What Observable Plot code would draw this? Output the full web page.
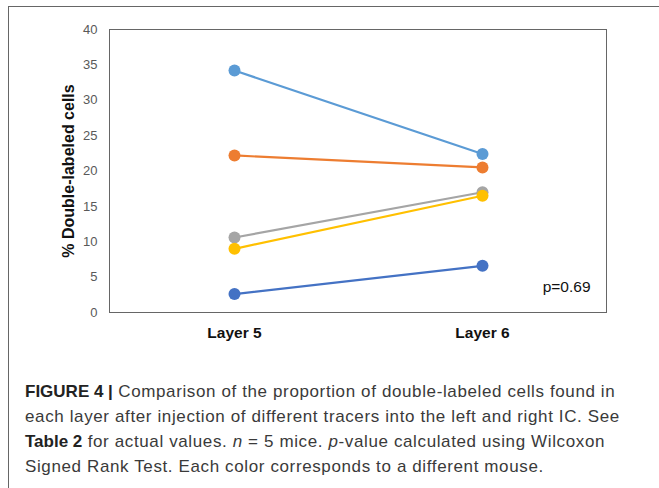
<!DOCTYPE html>
<html>
<head>
<meta charset="utf-8">
<script src="https://cdn.jsdelivr.net/npm/d3@7"></script>
<script src="https://cdn.jsdelivr.net/npm/@observablehq/plot@0.6"></script>
<style>
  html, body { margin: 0; padding: 0; background: #fff; }
  #wrap { position: relative; width: 659px; height: 488px; overflow: hidden; }
  #border { position: absolute; left: 8px; top: 6px; width: 660px; height: 490px;
            border-top: 1.5px solid #666; border-left: 1.5px solid #666; }
  #chart { position: absolute; left: 0; top: 0; }
  #caption { position: absolute; left: 25px; top: 379px; white-space: nowrap;
             font-family: "Liberation Sans", Arial, sans-serif; letter-spacing: 0.62px;
             font-size: 17px; line-height: 25px; color: #3a3a3a; }
  #caption b { font-weight: 700; color: #222; letter-spacing: 0; }
</style>
</head>
<body>
<div id="wrap">
  <div id="border"></div>
  <div id="chart"></div>
  <div id="caption"><b>FIGURE 4 |</b> Comparison of the proportion of double-labeled cells found in<br>each layer after injection of different tracers into the left and right IC. See<br><b>Table 2</b> for actual values. <i>n</i> = 5 mice. <i>p</i>-value calculated using Wilcoxon<br>Signed Rank Test. Each color corresponds to a different mouse.</div>
</div>
<script>
const layers = ["Layer 5", "Layer 6"];
const mice = ["Mouse 1", "Mouse 2", "Mouse 3", "Mouse 4", "Mouse 5"];
const layer5 = [34.2, 22.2, 10.6, 9.0, 2.6];
const layer6 = [22.4, 20.5, 17.0, 16.5, 6.6];
const colors = ["#5B9BD5", "#ED7D31", "#A5A5A5", "#FFC000", "#4472C4"];
const yTicks = [0, 5, 10, 15, 20, 25, 30, 35, 40];
const pLabel = "p=0.69";
const yLabel = "% Double-labeled cells";

const data = [];
mice.forEach((m, i) => {
  data.push({mouse: m, layer: layers[0], value: layer5[i]});
  data.push({mouse: m, layer: layers[1], value: layer6[i]});
});

const chart = Plot.plot({
  width: 659,
  height: 352,
  marginLeft: 109,
  marginRight: 53,
  marginTop: 29,
  marginBottom: 40,
  style: {background: "transparent"},
  x: {type: "point", domain: layers, padding: 0.5, label: null},
  y: {domain: [0, 40], label: null},
  color: {domain: mice, range: colors},
  marks: [
    Plot.frame({stroke: "#666", strokeWidth: 1}),
    Plot.axisY({ticks: yTicks, tickSize: 0, tickPadding: 12, fontSize: 13,
                fill: "#595959", label: null, fontFamily: "Liberation Sans, Arial, sans-serif"}),
    Plot.axisX({tickSize: 0, tickPadding: 14, fontSize: 15.5, fontWeight: "bold",
                fill: "#111", label: null, fontFamily: "Liberation Sans, Arial, sans-serif"}),
    Plot.line(data, {x: "layer", y: "value", z: "mouse", stroke: "mouse", strokeWidth: 2.2}),
    Plot.dot(data, {x: "layer", y: "value", fill: "mouse", r: 6}),
    Plot.text([pLabel], {frameAnchor: "bottom-right", dx: -16, dy: -21, fontSize: 15.5,
                         fill: "#111", fontFamily: "Liberation Sans, Arial, sans-serif"}),
    Plot.text([yLabel], {frameAnchor: "left", textAnchor: "middle", rotate: -90, dx: -41, fontSize: 16,
                         fontWeight: "bold", fill: "#111", fontFamily: "Liberation Sans, Arial, sans-serif"})
  ]
});
document.getElementById("chart").appendChild(chart);
</script>
</body>
</html>
